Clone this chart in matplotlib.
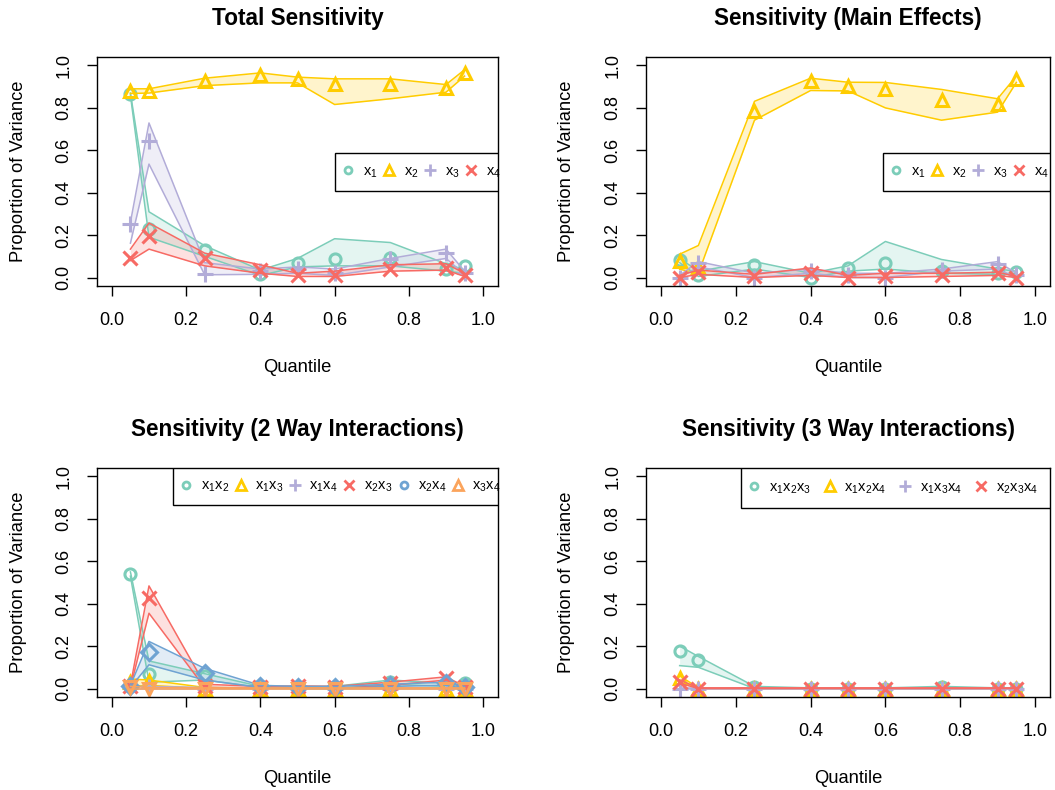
import matplotlib
matplotlib.use("Agg")
import matplotlib.pyplot as plt
from matplotlib.lines import Line2D
from matplotlib.patches import Rectangle

plt.rcParams['font.family'] = ['Liberation Sans', 'DejaVu Sans']
plt.rcParams['mathtext.fontset'] = 'custom'
plt.rcParams['mathtext.rm'] = 'Liberation Sans'

# quantiles on the x axis
quant = [0.05, 0.1, 0.25, 0.4, 0.5, 0.6, 0.75, 0.9, 0.95]

# Total sensitivity: estimate, lower, upper
tot_x1 = [0.865, 0.23, 0.13, 0.015, 0.07, 0.085, 0.09, 0.04, 0.055]
tot_x1_lo = [0.86, 0.19, 0.10, 0.01, 0.05, 0.055, 0.055, 0.03, 0.02]
tot_x1_hi = [0.87, 0.31, 0.15, 0.035, 0.09, 0.183, 0.165, 0.065, 0.036]
tot_x2 = [0.879, 0.882, 0.926, 0.953, 0.937, 0.913, 0.913, 0.894, 0.965]
tot_x2_lo = [0.868, 0.87, 0.905, 0.918, 0.918, 0.816, 0.843, 0.874, 0.95]
tot_x2_hi = [0.89, 0.89, 0.94, 0.965, 0.945, 0.937, 0.937, 0.91, 0.98]
tot_x3 = [0.252, 0.646, 0.015, 0.03, 0.04, 0.02, 0.088, 0.115, 0.02]
tot_x3_lo = [0.162, 0.535, 0.013, 0.015, 0.02, 0.01, 0.05, 0.09, 0.015]
tot_x3_hi = [0.26, 0.729, 0.07, 0.04, 0.05, 0.04, 0.09, 0.134, 0.03]
tot_x4 = [0.09, 0.197, 0.091, 0.035, 0.01, 0.01, 0.04, 0.045, 0.01]
tot_x4_lo = [0.08, 0.134, 0.055, 0.02, 0.005, 0.005, 0.03, 0.035, 0.005]
tot_x4_hi = [0.134, 0.257, 0.115, 0.06, 0.02, 0.03, 0.06, 0.065, 0.02]

# Main effects
main_x1 = [0.083, 0.01, 0.06, 0.0, 0.044, 0.068, 0.03, 0.02, 0.025]
main_x1_lo = [0.07, 0.005, 0.04, 0.0, 0.03, 0.04, 0.02, 0.015, 0.02]
main_x1_hi = [0.09, 0.03, 0.075, 0.02, 0.055, 0.17, 0.085, 0.04, 0.03]
main_x2 = [0.076, 0.05, 0.784, 0.926, 0.902, 0.891, 0.839, 0.819, 0.934]
main_x2_lo = [0.039, 0.02, 0.742, 0.882, 0.88, 0.80, 0.742, 0.78, 0.92]
main_x2_hi = [0.11, 0.151, 0.831, 0.94, 0.921, 0.92, 0.887, 0.843, 0.95]
main_x3 = [0.0, 0.068, 0.0, 0.03, 0.01, 0.0, 0.035, 0.065, 0.01]
main_x3_lo = [0.0, 0.05, 0.0, 0.02, 0.0, 0.0, 0.03, 0.04, 0.0]
main_x3_hi = [0.01, 0.075, 0.02, 0.04, 0.02, 0.02, 0.04, 0.075, 0.02]
main_x4 = [0.0, 0.025, 0.005, 0.02, 0.0, 0.005, 0.01, 0.02, 0.0]
main_x4_lo = [0.0, 0.015, 0.0, 0.01, 0.0, 0.0, 0.005, 0.01, 0.0]
main_x4_hi = [0.01, 0.035, 0.015, 0.045, 0.01, 0.02, 0.02, 0.025, 0.005]

# 2 way interactions
int2_x1x2 = [0.539, 0.068, 0.06, 0.01, 0.005, 0.005, 0.033, 0.02, 0.025]
int2_x1x2_lo = [0.53, 0.03, 0.04, 0.005, 0.0, 0.0, 0.02, 0.01, 0.015]
int2_x1x2_hi = [0.55, 0.13, 0.07, 0.01, 0.01, 0.01, 0.04, 0.025, 0.03]
int2_x1x3 = [0.03, 0.036, 0.0, 0.0, 0.0, 0.0, 0.0, 0.0, 0.0]
int2_x1x3_lo = [0.01, 0.015, 0.0, 0.0, 0.0, 0.0, 0.0, 0.0, 0.0]
int2_x1x3_hi = [0.045, 0.04, 0.005, 0.003, 0.003, 0.003, 0.003, 0.003, 0.003]
int2_x1x4 = [0.005, 0.005, 0.0, 0.0, 0.0, 0.0, 0.0, 0.0, 0.0]
int2_x1x4_lo = [0.0, 0.0, 0.0, 0.0, 0.0, 0.0, 0.0, 0.0, 0.0]
int2_x1x4_hi = [0.01, 0.01, 0.005, 0.003, 0.003, 0.003, 0.003, 0.003, 0.003]
int2_x2x3 = [0.01, 0.425, 0.01, 0.005, 0.01, 0.005, 0.025, 0.049, 0.005]
int2_x2x3_lo = [0.005, 0.355, 0.005, 0.0, 0.005, 0.0, 0.015, 0.04, 0.0]
int2_x2x3_hi = [0.015, 0.484, 0.02, 0.01, 0.012, 0.01, 0.03, 0.055, 0.01]
int2_x2x4 = [0.01, 0.17, 0.072, 0.01, 0.005, 0.005, 0.015, 0.025, 0.005]
int2_x2x4_lo = [0.005, 0.112, 0.04, 0.005, 0.0, 0.0, 0.01, 0.015, 0.0]
int2_x2x4_hi = [0.015, 0.222, 0.095, 0.015, 0.01, 0.01, 0.02, 0.03, 0.01]
int2_x3x4 = [0.005, 0.0, 0.0, 0.0, 0.0, 0.0, 0.0, 0.0, 0.0]
int2_x3x4_lo = [0.0, 0.0, 0.0, 0.0, 0.0, 0.0, 0.0, 0.0, 0.0]
int2_x3x4_hi = [0.01, 0.005, 0.003, 0.003, 0.003, 0.003, 0.003, 0.003, 0.003]

# 3 way interactions
int3_x1x2x3 = [0.175, 0.135, 0.005, 0.0, 0.0, 0.0, 0.005, 0.0, 0.0]
int3_x1x2x3_lo = [0.108, 0.10, 0.0, 0.0, 0.0, 0.0, 0.0, 0.0, 0.0]
int3_x1x2x3_hi = [0.20, 0.151, 0.01, 0.003, 0.003, 0.003, 0.01, 0.003, 0.003]
int3_x1x2x4 = [0.049, 0.0, 0.0, 0.0, 0.0, 0.0, 0.0, 0.0, 0.0]
int3_x1x2x4_lo = [0.04, 0.0, 0.0, 0.0, 0.0, 0.0, 0.0, 0.0, 0.0]
int3_x1x2x4_hi = [0.06, 0.003, 0.003, 0.003, 0.003, 0.003, 0.003, 0.003, 0.003]
int3_x1x3x4 = [0.0, 0.0, 0.0, 0.0, 0.0, 0.0, 0.0, 0.0, 0.0]
int3_x1x3x4_lo = [0.0, 0.0, 0.0, 0.0, 0.0, 0.0, 0.0, 0.0, 0.0]
int3_x1x3x4_hi = [0.003, 0.003, 0.003, 0.003, 0.003, 0.003, 0.003, 0.003, 0.003]
int3_x2x3x4 = [0.033, 0.0, 0.0, 0.0, 0.0, 0.0, 0.0, 0.0, 0.0]
int3_x2x3x4_lo = [0.025, 0.0, 0.0, 0.0, 0.0, 0.0, 0.0, 0.0, 0.0]
int3_x2x3x4_hi = [0.04, 0.003, 0.003, 0.003, 0.003, 0.003, 0.003, 0.003, 0.003]

cols = ['#7CCDB9', '#FFCC00', '#B2ACD8', '#F76A64', '#6FA3D2', '#FBA45C']
pch = ['o', '^', '+', 'x', 'D', 'v']
pch_leg = ['o', '^', '+', 'x', 'o', '^']
msize = {'o': 8, '^': 9, '+': 12, 'x': 10, 'D': 8, 'v': 9}
lsize = {'o': 5, '^': 6.5, '+': 9, 'x': 7}

panels = [
    ('Total Sensitivity',
     [r'$\mathrm{x}_1$', r'$\mathrm{x}_2$', r'$\mathrm{x}_3$', r'$\mathrm{x}_4$'],
     [(tot_x1, tot_x1_lo, tot_x1_hi), (tot_x2, tot_x2_lo, tot_x2_hi),
      (tot_x3, tot_x3_lo, tot_x3_hi), (tot_x4, tot_x4_lo, tot_x4_hi)]),
    ('Sensitivity (Main Effects)',
     [r'$\mathrm{x}_1$', r'$\mathrm{x}_2$', r'$\mathrm{x}_3$', r'$\mathrm{x}_4$'],
     [(main_x1, main_x1_lo, main_x1_hi), (main_x2, main_x2_lo, main_x2_hi),
      (main_x3, main_x3_lo, main_x3_hi), (main_x4, main_x4_lo, main_x4_hi)]),
    ('Sensitivity (2 Way Interactions)',
     [r'$\mathrm{x}_1\mathrm{x}_2$', r'$\mathrm{x}_1\mathrm{x}_3$', r'$\mathrm{x}_1\mathrm{x}_4$',
      r'$\mathrm{x}_2\mathrm{x}_3$', r'$\mathrm{x}_2\mathrm{x}_4$', r'$\mathrm{x}_3\mathrm{x}_4$'],
     [(int2_x1x2, int2_x1x2_lo, int2_x1x2_hi), (int2_x1x3, int2_x1x3_lo, int2_x1x3_hi),
      (int2_x1x4, int2_x1x4_lo, int2_x1x4_hi), (int2_x2x3, int2_x2x3_lo, int2_x2x3_hi),
      (int2_x2x4, int2_x2x4_lo, int2_x2x4_hi), (int2_x3x4, int2_x3x4_lo, int2_x3x4_hi)]),
    ('Sensitivity (3 Way Interactions)',
     [r'$\mathrm{x}_1\mathrm{x}_2\mathrm{x}_3$', r'$\mathrm{x}_1\mathrm{x}_2\mathrm{x}_4$',
      r'$\mathrm{x}_1\mathrm{x}_3\mathrm{x}_4$', r'$\mathrm{x}_2\mathrm{x}_3\mathrm{x}_4$'],
     [(int3_x1x2x3, int3_x1x2x3_lo, int3_x1x2x3_hi), (int3_x1x2x4, int3_x1x2x4_lo, int3_x1x2x4_hi),
      (int3_x1x3x4, int3_x1x3x4_lo, int3_x1x3x4_hi), (int3_x2x3x4, int3_x2x3x4_lo, int3_x2x3x4_hi)]),
]

W, H = 1055, 790
# axes boxes in pixels: left, top, right, bottom
boxes = [(97, 57, 498, 286), (646, 57, 1050, 286),
         (97, 468, 498, 697), (646, 468, 1050, 697)]
# legend frames in pixels: left, top, right, bottom
legboxes = [(335, 153, 498, 191), (883, 153, 1050, 191),
            (173, 468, 498, 505), (741, 468, 1050, 508)]
legspace = [0.3, 0.3, 0.28, 0.8]

fig = plt.figure(figsize=(W / 100, H / 100), dpi=100)

for k, (title, labels, series) in enumerate(panels):
    l, t, r, b = boxes[k]
    ll, lt, lr, lb = legboxes[k]
    ax = fig.add_axes([l / W, 1 - b / H, (r - l) / W, (b - t) / H])
    for i, (est, lo, hi) in enumerate(series):
        c = cols[i]
        ax.fill_between(quant, lo, hi, color=c, alpha=0.2, lw=0)
        ax.plot(quant, lo, color=c, lw=1.1)
        ax.plot(quant, hi, color=c, lw=1.1)
        ax.plot(quant, est, ls='none', marker=pch[i], ms=msize[pch[i]],
                mfc='none', mec=c, mew=2.2)

    ax.set_xlim(-0.04, 1.04)
    ax.set_ylim(-0.04, 1.04)
    ax.set_xticks([0, 0.2, 0.4, 0.6, 0.8, 1.0])
    ax.set_yticks([0, 0.2, 0.4, 0.6, 0.8, 1.0])
    ax.set_xticklabels(['0.0', '0.2', '0.4', '0.6', '0.8', '1.0'])
    ax.set_yticklabels(['0.0', '0.2', '0.4', '0.6', '0.8', '1.0'],
                       rotation=90, va='center')
    ax.tick_params(axis='x', length=7.5, width=1, pad=11, labelsize=13)
    ax.tick_params(axis='y', length=7.5, width=1, pad=10, labelsize=13)
    for s in ax.spines.values():
        s.set_linewidth(1)

    ax.text(0.5, 1.17, title, transform=ax.transAxes, ha='center',
            va='center', fontsize=16.3, fontweight='bold')
    ax.text(0.5, -0.355, 'Quantile', transform=ax.transAxes, ha='center',
            va='center', fontsize=13.2)
    ax.text(-0.197, 0.5, 'Proportion of Variance', transform=ax.transAxes,
            ha='center', va='center', rotation=90, fontsize=13.2)

    # legend frame drawn as a plain box, entries laid out inside it
    ax.add_patch(Rectangle((ll / W, 1 - lb / H), (lr - ll) / W, (lb - lt) / H,
                           transform=fig.transFigure, facecolor='white',
                           edgecolor='black', lw=1, zorder=5))
    handles = [Line2D([], [], ls='none', marker=pch_leg[i], ms=lsize[pch_leg[i]],
                      mfc='none', mec=cols[i], mew=2)
               for i in range(len(labels))]
    leg = ax.legend(handles, labels, loc='center left',
                    bbox_to_anchor=((ll + 6) / W, 1 - (lt + lb) / 2 / H),
                    bbox_transform=fig.transFigure,
                    ncol=len(labels), borderaxespad=0, borderpad=0,
                    fontsize=10.5, frameon=False, handlelength=1.0,
                    handletextpad=0.5, columnspacing=legspace[k])
    leg.set_zorder(6)

fig.savefig('out.png', dpi=100)
